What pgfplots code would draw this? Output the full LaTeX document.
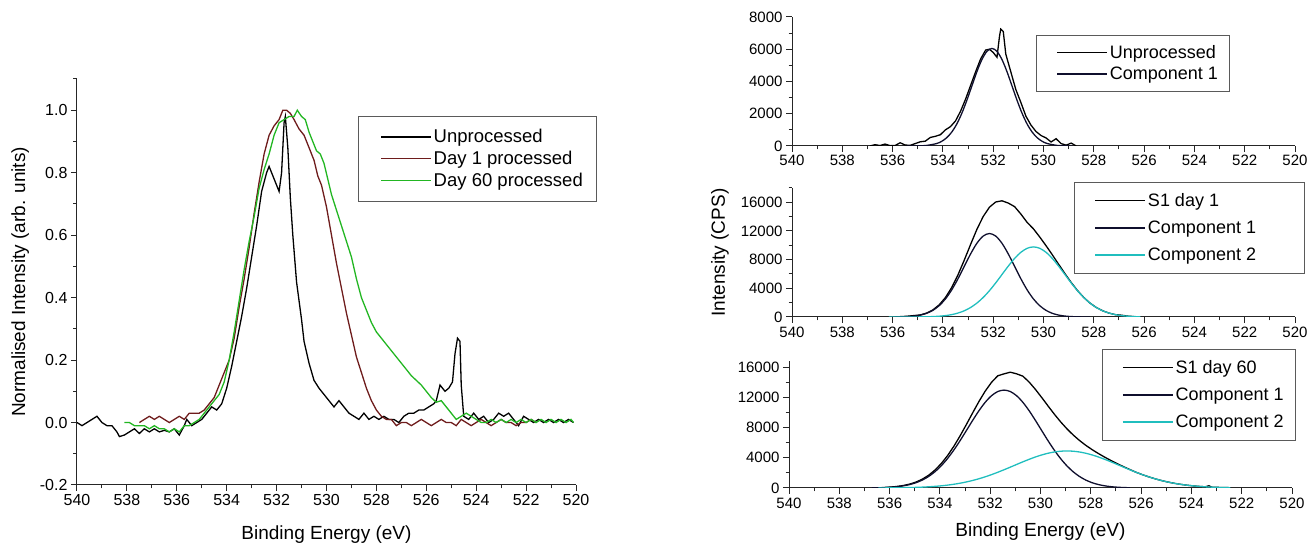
\documentclass[border=0pt]{standalone}
\usepackage{fontspec}
\setmainfont{Liberation Sans}
\usepackage{pgfplots}
\pgfplotsset{compat=1.18}

\definecolor{dayone}{RGB}{110,28,28}
\definecolor{daysixty}{RGB}{34,182,34}
\definecolor{comptwo}{RGB}{32,190,190}
\definecolor{compone}{RGB}{15,15,45}
\definecolor{framegray}{RGB}{90,90,90}

\pgfplotsset{
  xps/.style={
    scale only axis,
    axis x line*=bottom, axis y line*=left,
    axis line style={line width=1pt, black!85},
    x dir=reverse, xmin=520, xmax=540,
    xtick={520,522,...,540}, minor xtick={521,523,...,539},
    tick align=outside,
    major tick length=6pt, minor tick length=3.5pt,
    every tick/.style={black!85, line width=1pt},
    /pgf/number format/assume math mode=true,
    /pgf/number format/1000 sep={},
    scaled y ticks=false,
    legend cell align=left,
    legend image code/.code={\path (0pt,0pt); \draw[##1, line width=1.4pt] (10pt,0pt) -- (60pt,0pt);},
    every axis plot/.append style={line width=1.3pt},
  },
  small/.style={
    xps, width=503pt,
    ticklabel style={font=\fontsize{15}{17}\selectfont},
    legend style={draw=framegray, line width=0.9pt, anchor=north west,
      font=\fontsize{18}{21}\selectfont, inner xsep=10pt, inner ysep=9pt,
      row sep=9pt},
  },
}

\begin{document}
\begin{tikzpicture}
\path[use as bounding box] (0,0) rectangle (1313pt,545pt);

% ---- left panel: normalised spectra
\begin{axis}[
    xps,
    at={(77pt,60pt)}, anchor=south west,
    width=499pt, height=406pt,
    ymin=-0.2, ymax=1.1,
    ytick={-0.2,0,0.2,0.4,0.6,0.8,1.0},
    minor ytick={-0.1,0.1,0.3,0.5,0.7,0.9,1.1},
    yticklabel style={/pgf/number format/.cd, fixed, fixed zerofill, precision=1},
    ticklabel style={font=\fontsize{16}{18}\selectfont},
    xlabel={Binding Energy (eV)},
    ylabel={Normalised Intensity (arb. units)},
    xlabel shift=13pt, ylabel shift=4pt,
    label style={font=\fontsize{19}{22}\selectfont},
    legend style={at={(rel axis cs:0.563,0.909)}, anchor=north west,
      draw=framegray, line width=0.9pt,
      font=\fontsize{18.5}{22}\selectfont, inner xsep=12pt, inner ysep=11pt,
      row sep=3pt},
]
\addplot[black] coordinates {
(540.0,0.00) (539.8,-0.01) (539.6,0.00) (539.4,0.01) (539.2,0.02) (539.0,0.00)
(538.8,-0.01) (538.6,-0.01) (538.4,-0.03) (538.3,-0.045) (538.1,-0.04) (537.9,-0.03)
(537.7,-0.02) (537.5,-0.035) (537.3,-0.02) (537.1,-0.03) (536.9,-0.02) (536.7,-0.03)
(536.5,-0.025) (536.3,-0.03) (536.1,-0.02) (535.9,-0.04) (535.7,-0.01) (535.6,0.01)
(535.4,-0.01) (535.2,0.00) (535.0,0.01) (534.8,0.03) (534.6,0.05) (534.4,0.04)
(534.2,0.06) (534.0,0.11) (533.8,0.18) (533.6,0.26) (533.4,0.34) (533.2,0.43)
(533.0,0.53) (532.8,0.63) (532.6,0.74) (532.4,0.80) (532.3,0.82) (532.2,0.80)
(532.1,0.78) (532.0,0.76) (531.9,0.74) (531.8,0.80) (531.7,0.96) (531.65,0.98)
(531.55,0.88) (531.45,0.72) (531.35,0.60) (531.2,0.45) (531.0,0.33) (530.9,0.26)
(530.7,0.19) (530.5,0.135) (530.3,0.11) (530.1,0.09) (529.9,0.07) (529.7,0.05)
(529.5,0.07) (529.3,0.05) (529.1,0.03) (528.9,0.02) (528.7,0.01) (528.5,0.03)
(528.3,0.01) (528.1,0.02) (527.9,0.01) (527.7,0.02) (527.5,0.01) (527.3,0.01)
(527.1,0.00) (526.9,0.02) (526.7,0.03) (526.5,0.03) (526.3,0.04) (526.1,0.04)
(525.9,0.05) (525.7,0.06) (525.6,0.07) (525.45,0.12) (525.35,0.11) (525.25,0.10)
(525.1,0.11) (524.95,0.13) (524.85,0.22) (524.75,0.27) (524.65,0.26) (524.6,0.12)
(524.5,0.02) (524.3,0.01) (524.1,0.03) (523.9,0.01) (523.7,0.02) (523.5,0.00)
(523.3,0.01) (523.1,0.03) (522.9,0.02) (522.7,0.03) (522.5,0.01) (522.3,-0.01)
(522.1,0.02) (521.9,0.01) (521.7,0.00) (521.5,0.01) (521.3,0.00) (521.1,0.01)
(520.9,0.00) (520.7,0.01) (520.5,0.00) (520.3,0.01) (520.1,0.00)
};
\addlegendentry{Unprocessed}
\addplot[dayone] coordinates {
(537.5,0.00) (537.3,0.01) (537.1,0.02) (536.9,0.01) (536.7,0.02) (536.5,0.01)
(536.3,0.00) (536.1,0.01) (535.9,0.02) (535.7,0.01) (535.5,0.03) (535.3,0.03)
(535.1,0.03) (534.9,0.04) (534.7,0.06) (534.5,0.08) (534.3,0.12) (534.1,0.16)
(533.9,0.20) (533.7,0.27) (533.5,0.37) (533.3,0.46) (533.1,0.56) (532.9,0.67)
(532.7,0.77) (532.5,0.86) (532.3,0.92) (532.1,0.95) (531.9,0.97) (531.75,1.00)
(531.6,1.00) (531.45,0.99) (531.3,0.97) (531.1,0.94) (530.9,0.92) (530.7,0.88)
(530.5,0.84) (530.35,0.79) (530.2,0.76) (530.0,0.69) (529.8,0.60) (529.6,0.51)
(529.4,0.43) (529.2,0.35) (529.0,0.28) (528.8,0.21) (528.6,0.16) (528.4,0.11)
(528.2,0.07) (528.0,0.04) (527.8,0.02) (527.6,0.01) (527.4,0.01) (527.2,-0.01)
(527.0,0.00) (526.8,0.00) (526.6,-0.01) (526.4,0.00) (526.2,0.01) (526.0,0.00)
(525.8,-0.01) (525.6,0.00) (525.4,0.01) (525.2,0.00) (525.0,0.00) (524.8,-0.01)
(524.6,0.01) (524.4,0.00) (524.2,-0.01) (524.0,0.00) (523.8,0.01) (523.6,0.00)
(523.4,-0.01) (523.2,0.00) (523.0,0.01) (522.8,0.00) (522.6,0.00) (522.4,-0.01)
(522.2,0.00) (522.0,0.00) (521.8,0.01) (521.6,0.00)
};
\addlegendentry{Day 1 processed}
\addplot[daysixty] coordinates {
(538.1,0.00) (537.9,0.00) (537.7,-0.01) (537.5,-0.01) (537.3,-0.01) (537.1,-0.02)
(536.9,-0.01) (536.7,-0.02) (536.5,-0.02) (536.3,-0.03) (536.1,-0.02) (535.9,-0.03)
(535.7,-0.01) (535.5,-0.01) (535.3,0.00) (535.1,0.01) (534.9,0.03) (534.7,0.05)
(534.5,0.07) (534.3,0.09) (534.1,0.13) (533.9,0.20) (533.7,0.29) (533.5,0.39)
(533.3,0.49) (533.1,0.58) (532.9,0.66) (532.7,0.75) (532.5,0.81) (532.3,0.86)
(532.1,0.92) (531.9,0.96) (531.7,0.97) (531.5,0.98) (531.3,0.98) (531.17,1.00)
(531.0,0.98) (530.85,0.97) (530.7,0.93) (530.55,0.90) (530.4,0.87) (530.25,0.86)
(530.1,0.83) (529.95,0.78) (529.8,0.73) (529.6,0.68) (529.4,0.63) (529.2,0.58)
(529.0,0.53) (528.8,0.46) (528.6,0.40) (528.4,0.36) (528.2,0.32) (528.0,0.29)
(527.8,0.27) (527.6,0.25) (527.4,0.23) (527.2,0.21) (527.0,0.19) (526.8,0.17)
(526.6,0.15) (526.4,0.135) (526.2,0.12) (526.0,0.10) (525.8,0.08) (525.6,0.065)
(525.4,0.07) (525.2,0.05) (525.0,0.03) (524.8,0.01) (524.6,0.02) (524.4,0.03)
(524.2,0.02) (524.0,0.01) (523.8,0.00) (523.6,0.00) (523.4,0.01) (523.2,0.00)
(523.0,0.01) (522.8,0.00) (522.6,0.01) (522.4,0.00) (522.2,0.01) (522.0,0.00)
(521.8,0.01) (521.6,0.00) (521.4,0.01) (521.2,0.00) (521.0,0.01) (520.8,0.00)
(520.6,0.01) (520.4,0.00) (520.2,0.01) (520.1,0.00)
};
\addlegendentry{Day 60 processed}
\end{axis}

% ---- right, top: unprocessed
\begin{axis}[
    small,
    at={(792pt,399pt)}, anchor=south west, height=129pt,
    ymin=0, ymax=8000,
    ytick={0,2000,4000,6000,8000}, minor ytick={1000,3000,5000,7000},
    legend style={at={(rel axis cs:0.485,0.86)}, row sep=3pt, inner ysep=8pt},
]
\addplot[black] coordinates {
(536.9,0) (536.7,80) (536.5,30) (536.3,120) (536.1,20) (535.9,30) (535.7,200)
(535.5,60) (535.3,40) (535.1,150) (534.9,260) (534.7,300) (534.5,530) (534.3,600)
(534.1,700) (533.9,1000) (533.7,1200) (533.5,1550) (533.3,2150) (533.1,2900)
(532.9,3750) (532.7,4600) (532.5,5400) (532.3,5950) (532.15,6000) (532.0,5800)
(531.85,5500) (531.75,6800) (531.7,7250) (531.6,7100) (531.5,5700) (531.3,4600)
(531.1,3500) (530.9,2700) (530.7,1850) (530.5,1300) (530.3,900) (530.1,650)
(529.9,500) (529.7,250) (529.5,450) (529.3,150) (529.1,50) (528.9,180) (528.7,0)
};
\addlegendentry{Unprocessed}
\addplot[compone, smooth] coordinates {
(535.45,0) (535.05,6) (534.65,35) (534.25,151) (534.05,287) (533.85,512)
(533.65,860) (533.45,1358) (533.25,2020) (533.05,2824) (532.85,3714) (532.65,4600)
(532.45,5356) (532.25,5868) (532.05,6050) (531.85,5868) (531.65,5356) (531.45,4600)
(531.25,3714) (531.05,2824) (530.85,2020) (530.65,1358) (530.45,860) (530.25,512)
(530.05,287) (529.85,151) (529.45,35) (529.05,6) (528.85,0)
};
\addlegendentry{Component 1}
\end{axis}

% ---- right, middle: day 1
\begin{axis}[
    small,
    at={(792pt,228pt)}, anchor=south west, height=129pt,
    ymin=0, ymax=18000,
    ytick={0,4000,8000,12000,16000}, minor ytick={2000,6000,10000,14000,18000},
    ylabel={Intensity (CPS)}, ylabel shift=5pt,
    label style={font=\fontsize{19}{22}\selectfont},
    legend style={at={(rel axis cs:0.561,1.047)}},
]
\addplot[black] coordinates {
(535.9,5) (535.65,60) (535.4,110) (535.15,200) (534.9,281) (534.65,542)
(534.4,985) (534.15,1685) (533.9,2712) (533.65,4115) (533.4,5884) (533.15,7935)
(532.9,10118) (532.65,12216) (532.4,14010) (532.15,15320) (531.9,16050)
(531.65,16212) (531.4,15895) (531.15,15400) (530.9,14363) (530.65,13200)
(530.4,12298) (530.15,11162) (529.9,9955) (529.65,8682) (529.4,7366)
(529.15,6061) (528.9,4819) (528.65,3695) (528.4,2725) (528.15,1936)
(527.9,1323) (527.65,869) (527.4,549) (527.15,333) (526.9,250) (526.65,120)
(526.4,58)
};
\addlegendentry{S1 day 1}
\addplot[compone, smooth] coordinates {
(535.9,5) (535.65,25) (535.4,59) (535.15,129) (534.9,266) (534.65,512)
(534.4,927) (534.15,1576) (533.9,2518) (533.65,3782) (533.4,5335) (533.15,7066)
(532.9,8795) (532.65,10280) (532.4,11290) (532.15,11650) (531.9,11290)
(531.65,10280) (531.4,8795) (531.15,7066) (530.9,5335) (530.65,3782)
(530.4,2518) (530.15,1576) (529.9,927) (529.65,512) (529.4,266) (529.15,129)
(528.9,59) (528.65,25) (528.4,5) (528.15,0)
};
\addlegendentry{Component 1}
\addplot[comptwo, smooth] coordinates {
(536.15,0) (535.9,0) (535.65,1) (535.4,3) (535.15,7) (534.9,15) (534.65,30)
(534.4,58) (534.15,109) (533.9,194) (533.65,333) (533.4,549) (533.15,869)
(532.9,1323) (532.65,1936) (532.4,2720) (532.15,3670) (531.9,4760)
(531.65,5932) (531.4,7100) (531.15,8170) (530.9,9028) (530.65,9586)
(530.4,9780) (530.15,9586) (529.9,9028) (529.65,8170) (529.4,7100)
(529.15,5932) (528.9,4760) (528.65,3670) (528.4,2720) (528.15,1936)
(527.9,1323) (527.65,869) (527.4,549) (527.15,333) (526.9,194) (526.65,109)
(526.4,58) (526.15,30)
};
\addlegendentry{Component 2\hspace*{36pt}}
\end{axis}

% ---- right, bottom: day 60
\begin{axis}[
    small,
    at={(789pt,57pt)}, anchor=south west, height=127pt,
    ymin=0, ymax=16800,
    ytick={0,4000,8000,12000,16000}, minor ytick={2000,6000,10000,14000},
    xlabel={Binding Energy (eV)}, xlabel shift=8pt,
    label style={font=\fontsize{19}{22}\selectfont},
    legend style={at={(rel axis cs:0.622,1.094)}},
]
\addplot[black] coordinates {
(536.2,72) (535.95,124) (535.7,205) (535.45,330) (535.2,516) (534.95,786)
(534.7,1165) (534.45,1682) (534.2,2359) (533.95,3217) (533.7,4264) (533.45,5496)
(533.2,6883) (532.95,8383) (532.7,9925) (532.45,11432) (532.2,12808)
(531.95,13969) (531.7,14839) (531.45,15100) (531.2,15320) (530.95,15100)
(530.7,14792) (530.45,14005) (530.2,13035) (529.95,11959) (529.7,10848)
(529.45,9766) (529.2,8750) (528.95,7829) (528.7,7009) (528.45,6286)
(528.2,5647) (527.95,5078) (527.7,4562) (527.45,4084) (527.2,3640)
(526.95,3218) (526.7,2820) (526.45,2446) (526.2,2079) (525.95,1766)
(525.7,1479) (525.45,1222) (525.2,995) (524.95,799) (524.7,632) (524.45,493)
(524.2,379) (523.95,288) (523.7,215) (523.45,159) (523.3,300) (523.2,115)
(522.95,83) (522.7,59) (522.45,41)
};
\addlegendentry{S1 day 60}
\addplot[compone, smooth] coordinates {
(536.7,18) (536.45,34) (536.2,60) (535.95,105) (535.7,177) (535.45,289)
(535.2,457) (534.95,703) (534.7,1050) (534.45,1523) (534.2,2144) (533.95,2929)
(533.7,3885) (533.45,5003) (533.2,6251) (532.95,7584) (532.7,8930)
(532.45,10210) (532.2,11329) (531.95,12203) (531.7,12760) (531.45,12950)
(531.2,12760) (530.95,12203) (530.7,11329) (530.45,10210) (530.2,8930)
(529.95,7584) (529.7,6251) (529.45,5003) (529.2,3885) (528.95,2929)
(528.7,2144) (528.45,1523) (528.2,1050) (527.95,703) (527.7,457) (527.45,289)
(527.2,177) (526.95,105) (526.7,60) (526.45,34)
};
\addlegendentry{Component 1}
\addplot[comptwo, smooth] coordinates {
(536.45,8) (536.2,12) (535.95,19) (535.7,28) (535.45,41) (535.2,59) (534.95,83)
(534.7,115) (534.45,159) (534.2,215) (533.95,288) (533.7,379) (533.45,493)
(533.2,632) (532.95,799) (532.7,995) (532.45,1222) (532.2,1479) (531.95,1766)
(531.7,2079) (531.45,2412) (531.2,2760) (530.95,3113) (530.7,3463)
(530.45,3795) (530.2,4105) (529.95,4375) (529.7,4597) (529.45,4763)
(529.2,4865) (528.95,4900) (528.7,4865) (528.45,4763) (528.2,4597)
(527.95,4375) (527.7,4105) (527.45,3795) (527.2,3463) (526.95,3113)
(526.7,2760) (526.45,2412) (526.2,2079) (525.95,1766) (525.7,1479)
(525.45,1222) (525.2,995) (524.95,799) (524.7,632) (524.45,493) (524.2,379)
(523.95,288) (523.7,215) (523.45,159) (523.2,115) (522.95,83) (522.7,59)
(522.45,41)
};
\addlegendentry{Component 2}
\end{axis}
\end{tikzpicture}
\end{document}
